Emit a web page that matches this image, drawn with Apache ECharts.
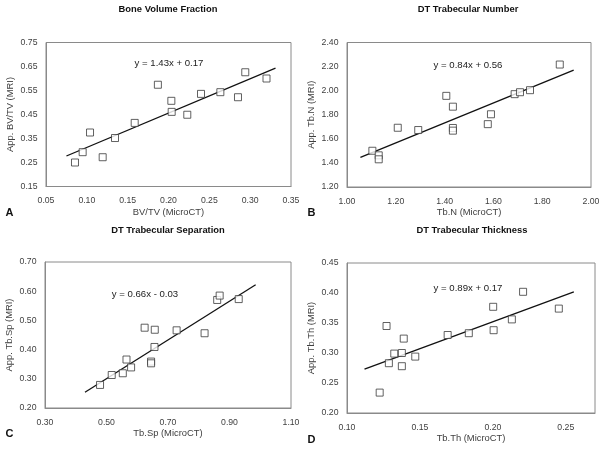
<!DOCTYPE html>
<html><head><meta charset="utf-8">
<script src="https://cdn.jsdelivr.net/npm/echarts@6/dist/echarts.min.js"></script>
<style>html,body{margin:0;padding:0;background:#fff}#c{width:604px;height:450px}</style>
</head><body><div id="c"></div>
<script>
// ---- data ----
const titles = ['Bone Volume Fraction', 'DT Trabecular Number', 'DT Trabecular Separation', 'DT Trabecular Thickness'];
const panelLetters = ['A', 'B', 'C', 'D'];
const xNames = ['BV/TV (MicroCT)', 'Tb.N (MicroCT)', 'Tb.Sp (MicroCT)', 'Tb.Th (MicroCT)'];
const yNames = ['App. BV/TV (MRI)', 'App. Tb.N (MRI)', 'App. Tb.Sp (MRI)', 'App. Tb.Th (MRI)'];
const equations = ['y = 1.43x + 0.17', 'y = 0.84x + 0.56', 'y = 0.66x - 0.03', 'y = 0.89x + 0.17'];

const xTicksA = [0.05, 0.10, 0.15, 0.20, 0.25, 0.30, 0.35];
const yTicksA = [0.15, 0.25, 0.35, 0.45, 0.55, 0.65, 0.75];
const xTicksB = [1.00, 1.20, 1.40, 1.60, 1.80, 2.00];
const yTicksB = [1.20, 1.40, 1.60, 1.80, 2.00, 2.20, 2.40];
const xTicksC = [0.30, 0.50, 0.70, 0.90, 1.10];
const yTicksC = [0.20, 0.30, 0.40, 0.50, 0.60, 0.70];
const xTicksD = [0.10, 0.15, 0.20, 0.25];
const yTicksD = [0.20, 0.25, 0.30, 0.35, 0.40, 0.45];
const xAxisMaxD = 0.27;

const bvX = [0.0855, 0.0949, 0.1039, 0.1194, 0.1345, 0.1586, 0.187, 0.2035, 0.2039, 0.223, 0.2398, 0.2635, 0.2851, 0.294, 0.320];
const bvY = [0.250, 0.293, 0.375, 0.272, 0.352, 0.415, 0.574, 0.507, 0.461, 0.449, 0.536, 0.543, 0.522, 0.626, 0.600];
const tbnX = [1.104, 1.130, 1.130, 1.208, 1.292, 1.407, 1.434, 1.434, 1.434, 1.577, 1.590, 1.687, 1.709, 1.750, 1.872];
const tbnY = [1.501, 1.463, 1.430, 1.692, 1.673, 1.957, 1.867, 1.690, 1.668, 1.722, 1.804, 1.971, 1.987, 2.004, 2.217];
const tbspX = [0.479, 0.517, 0.553, 0.565, 0.580, 0.624, 0.645, 0.645, 0.657, 0.656, 0.728, 0.819, 0.860, 0.868, 0.930];
const tbspY = [0.279, 0.313, 0.319, 0.366, 0.339, 0.475, 0.359, 0.353, 0.468, 0.409, 0.466, 0.456, 0.570, 0.585, 0.573];
const tbthX = [0.1224, 0.1271, 0.1287, 0.1324, 0.1376, 0.1376, 0.1389, 0.1468, 0.169, 0.1835, 0.2002, 0.2005, 0.213, 0.2207, 0.2452];
const tbthY = [0.234, 0.345, 0.283, 0.299, 0.300, 0.278, 0.324, 0.294, 0.330, 0.333, 0.377, 0.338, 0.356, 0.402, 0.374];

// trend line end points [x, y]
const trendBV = [[0.075, 0.277], [0.331, 0.643]];
const trendTbN = [[1.055, 1.446], [1.929, 2.170]];
const trendTbSp = [[0.430, 0.254], [0.985, 0.622]];
const trendTbTh = [[0.112, 0.273], [0.2555, 0.402]];

// ---- build ----
const xTicks = [xTicksA, xTicksB, xTicksC, xTicksD];
const yTicks = [yTicksA, yTicksB, yTicksC, yTicksD];
const xMaxes = [xTicksA[xTicksA.length - 1], xTicksB[xTicksB.length - 1], xTicksC[xTicksC.length - 1], xAxisMaxD];
const pointsX = [bvX, tbnX, tbspX, tbthX];
const pointsY = [bvY, tbnY, tbspY, tbthY];
const trends = [trendBV, trendTbN, trendTbSp, trendTbTh];

const grids = [
  { left: 46, top: 42.5, width: 245, height: 144 },
  { left: 347, top: 42.5, width: 244, height: 144.5 },
  { left: 45, top: 262, width: 246, height: 146 },
  { left: 347, top: 263, width: 248, height: 150 }
];
const titlePos = [[168, 9], [468, 9], [168, 230], [472, 230]];
const eqPos = [[169, 63], [468, 65], [145, 294], [468, 288]];
const letterPos = [[9.5, 213], [311.5, 213], [9.5, 434], [311.5, 440]];

const FONT = 'Liberation Sans, Arial, sans-serif';
const borderGray = '#8a8a8a';
const labelColor = '#404040';

const option = {
  animation: false,
  backgroundColor: '#fff',
  grid: grids.map(g => Object.assign({ show: true, borderColor: borderGray, borderWidth: 1, backgroundColor: 'transparent', containLabel: false }, g)),
  xAxis: xTicks.map((t, i) => ({
    type: 'value', gridIndex: i,
    min: t[0], max: xMaxes[i], interval: +(t[1] - t[0]).toFixed(4),
    name: xNames[i], nameLocation: 'middle', nameGap: 21,
    nameTextStyle: { fontFamily: FONT, fontSize: 9.4, color: labelColor },
    axisLine: { show: true, lineStyle: { color: borderGray } },
    axisTick: { show: false },
    splitLine: { show: false },
    axisLabel: { fontFamily: FONT, fontSize: 8.7, color: labelColor, margin: 10,
      showMaxLabel: i !== 3, formatter: v => v.toFixed(2) }
  })),
  yAxis: yTicks.map((t, i) => ({
    type: 'value', gridIndex: i,
    min: t[0], max: t[t.length - 1], interval: +(t[1] - t[0]).toFixed(4),
    name: yNames[i], nameLocation: 'middle', nameGap: 31, nameRotate: 90,
    nameTextStyle: { fontFamily: FONT, fontSize: 9.4, color: labelColor },
    axisLine: { show: true, lineStyle: { color: borderGray } },
    axisTick: { show: false },
    splitLine: { show: false },
    axisLabel: { fontFamily: FONT, fontSize: 8.7, color: labelColor, margin: 8.5, formatter: v => v.toFixed(2) }
  })),
  series: [],
  graphic: []
};

for (let i = 0; i < 4; i++) {
  option.series.push({
    type: 'line', xAxisIndex: i, yAxisIndex: i, data: trends[i], showSymbol: false, z: 2,
    lineStyle: { color: '#111', width: 1.3 }, silent: true
  });
  option.series.push({
    type: 'scatter', xAxisIndex: i, yAxisIndex: i, z: 3,
    data: pointsX[i].map((x, k) => [x, pointsY[i][k]]),
    symbol: 'rect', symbolSize: 7,
    itemStyle: { color: '#fff', borderColor: '#3a3a3a', borderWidth: 1 }
  });
  option.graphic.push({
    type: 'text', x: titlePos[i][0], y: titlePos[i][1],
    style: { text: titles[i], fontFamily: FONT, fontSize: 9.4, fontWeight: 'bold', fill: '#111', align: 'center', verticalAlign: 'middle' }
  });
  option.graphic.push({
    type: 'text', x: eqPos[i][0], y: eqPos[i][1],
    style: { text: equations[i], fontFamily: FONT, fontSize: 9.6, fill: '#222', align: 'center', verticalAlign: 'middle' }
  });
  option.graphic.push({
    type: 'text', x: letterPos[i][0], y: letterPos[i][1],
    style: { text: panelLetters[i], fontFamily: FONT, fontSize: 11, fontWeight: 'bold', fill: '#111', align: 'center', verticalAlign: 'middle' }
  });
}

const chart = echarts.init(document.getElementById('c'), null, { renderer: 'canvas' });
chart.setOption(option);
</script></body></html>
